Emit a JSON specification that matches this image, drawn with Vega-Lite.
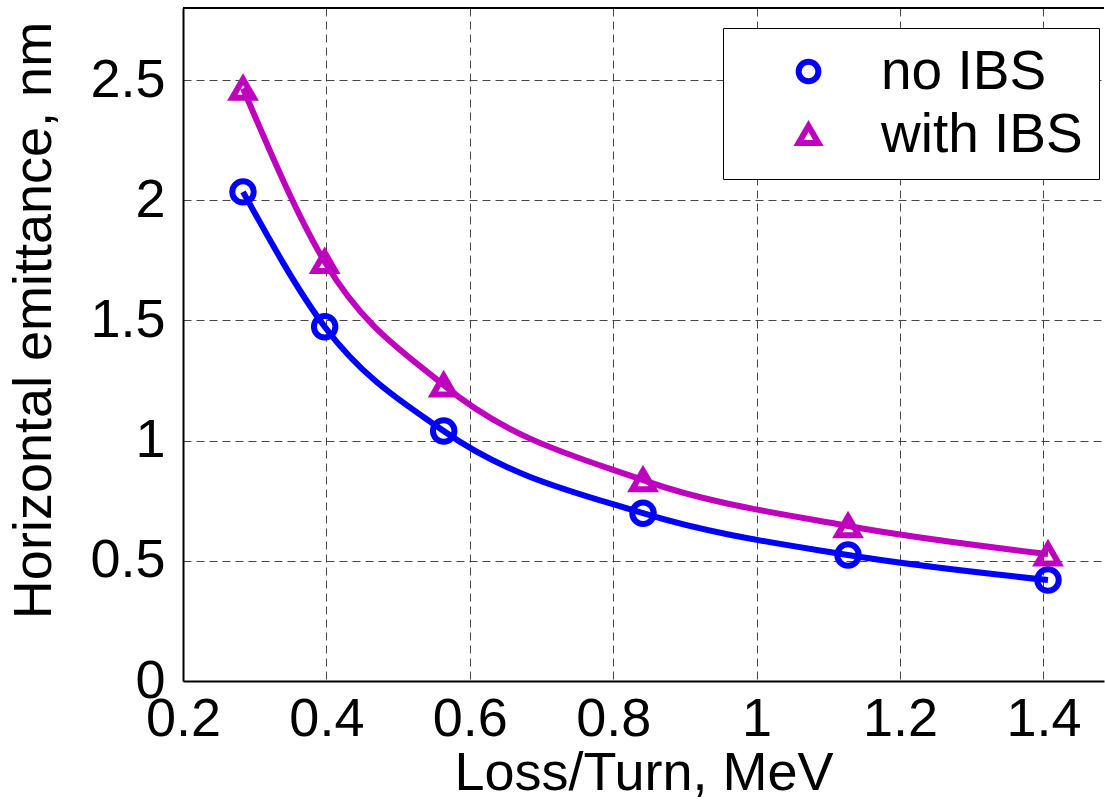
{
  "$schema": "https://vega.github.io/schema/vega-lite/v6.json",
  "width": 921,
  "height": 673,
  "autosize": "none",
  "padding": {"left": 183, "top": 8, "right": 1, "bottom": 130},
  "background": "white",
  "config": {
    "font": "Liberation Sans",
    "view": {"stroke": null},
    "axis": {
      "labelFont": "Liberation Sans",
      "titleFont": "Liberation Sans",
      "labelFontSize": 54,
      "titleFontSize": 54,
      "labelColor": "black",
      "titleColor": "black",
      "titleFontWeight": "normal",
      "domainColor": "black",
      "domainWidth": 2,
      "gridColor": "#333333",
      "gridDash": [8, 5],
      "gridWidth": 1,
      "gridOpacity": 0.9,
      "format": "~g"
    }
  },
  "data": {
    "values": [
      {"loss": 0.2837, "emit": 2.035, "series": "no IBS"},
      {"loss": 0.3976, "emit": 1.474, "series": "no IBS"},
      {"loss": 0.5636, "emit": 1.040, "series": "no IBS"},
      {"loss": 0.8416, "emit": 0.698, "series": "no IBS"},
      {"loss": 1.1275, "emit": 0.524, "series": "no IBS"},
      {"loss": 1.4064, "emit": 0.420, "series": "no IBS"},
      {"loss": 0.2837, "emit": 2.465, "series": "with IBS"},
      {"loss": 0.3976, "emit": 1.744, "series": "with IBS"},
      {"loss": 0.5636, "emit": 1.231, "series": "with IBS"},
      {"loss": 0.8416, "emit": 0.836, "series": "with IBS"},
      {"loss": 1.1275, "emit": 0.645, "series": "with IBS"},
      {"loss": 1.4064, "emit": 0.528, "series": "with IBS"}
    ]
  },
  "layer": [
    {
      "mark": {"type": "line", "interpolate": "monotone", "strokeWidth": 6, "clip": true},
      "encoding": {
        "x": {
          "field": "loss", "type": "quantitative",
          "scale": {"domain": [0.2, 1.4845], "nice": false, "zero": false},
          "axis": {
            "title": "Loss/Turn, MeV",
            "values": [0.2, 0.4, 0.6, 0.8, 1, 1.2, 1.4],
            "grid": true,
            "ticks": false,
            "labelPadding": 11,
            "titlePadding": 0,
            "labelFlush": false
          }
        },
        "y": {
          "field": "emit", "type": "quantitative",
          "scale": {"domain": [0, 2.8], "nice": false},
          "axis": {
            "title": "Horizontal emittance, nm",
            "values": [0, 0.5, 1, 1.5, 2, 2.5],
            "grid": true,
            "ticks": false,
            "labelPadding": 18,
            "titlePadding": 28,
            "titleY": 312,
            "labelFlush": false
          }
        },
        "color": {
          "field": "series", "type": "nominal",
          "scale": {"domain": ["no IBS", "with IBS"], "range": ["#0000ff", "#bf00bf"]}
        }
      }
    },
    {
      "mark": {"type": "point", "filled": false, "strokeWidth": 6, "size": 460, "opacity": 1},
      "encoding": {
        "x": {"field": "loss", "type": "quantitative"},
        "y": {"field": "emit", "type": "quantitative"},
        "color": {
          "field": "series", "type": "nominal",
          "legend": {
            "title": null,
            "orient": "none",
            "legendX": 540,
            "legendY": 20,
            "padding": 16,
            "strokeColor": "black",
            "fillColor": "white",
            "labelFont": "Liberation Sans",
            "labelFontSize": 55,
            "labelColor": "black",
            "labelLimit": 400,
            "symbolSize": 390,
            "symbolStrokeWidth": 6,
            "symbolFillColor": "white",
            "symbolType": "circle",
            "symbolOffset": 42,
            "labelOffset": 45,
            "rowPadding": 7
          }
        },
        "shape": {
          "field": "series", "type": "nominal",
          "scale": {"domain": ["no IBS", "with IBS"], "range": ["circle", "triangle-up"]}
        }
      }
    },
    {
      "mark": {"type": "rule", "color": "black", "strokeWidth": 2},
      "encoding": {
        "y": {"datum": 2.8, "type": "quantitative"}
      }
    }
  ]
}
